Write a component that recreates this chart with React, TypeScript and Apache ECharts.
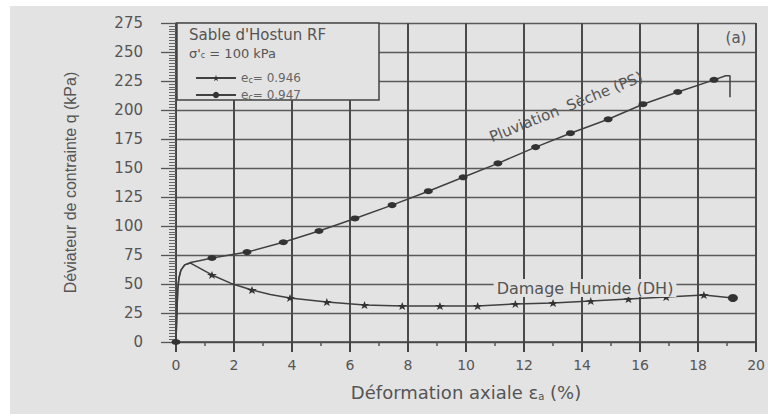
import React, { useEffect, useRef } from "react";
import * as echarts from "echarts";

// Pluviation Sèche (PS) — e_c = 0.947 (circles). mark: 0 = no marker, 1 = marker
const psX = [0, 0.03, 0.06, 0.1, 0.17, 0.3, 0.5, 0.8, 1.24, 2.45, 3.7, 4.93, 6.17, 7.45, 8.7, 9.9, 11.1, 12.4, 13.6, 14.9, 16.1, 17.3, 18.55, 18.95, 19.1, 19.1];
const psY = [0, 25, 45, 55, 62, 66.5, 68.5, 70, 72.4, 77.5, 86, 95.7, 106.5, 118, 130, 142, 154, 168, 180, 192, 205, 215.5, 226, 229.5, 229.5, 211];
const psMark = [1, 0, 0, 0, 0, 0, 0, 0, 1, 1, 1, 1, 1, 1, 1, 1, 1, 1, 1, 1, 1, 1, 1, 0, 0, 0];

// Damage Humide (DH) — e_c = 0.946 (stars). mark: 2 = large dot at the end
const dhX = [0, 0.03, 0.06, 0.1, 0.17, 0.3, 0.5, 1.24, 1.9, 2.62, 3.25, 3.93, 5.2, 6.5, 7.8, 9.1, 10.4, 11.7, 13.0, 14.3, 15.6, 16.9, 18.2, 19.2];
const dhY = [0, 25, 45, 55, 62, 66.5, 68, 57.8, 50.5, 44.8, 41, 38, 34.5, 31.9, 31, 31, 31, 32.8, 33.6, 35.3, 37, 38.8, 40.5, 38];
const dhMark = [0, 0, 0, 0, 0, 0, 0, 1, 0, 1, 0, 1, 1, 1, 1, 1, 1, 1, 1, 1, 1, 1, 1, 2];

const psName = "ec= 0.947";
const dhName = "ec= 0.946";

const xTitle = "Déformation axiale ε{sub|a} (%)";
const yTitle = "Déviateur de contrainte q (kPa)";

const STAR = "path://M50,0L61,35L98,35L68,57L79,91L50,70L21,91L32,57L2,35L39,35Z";
const BG = "#e3e3e3";
const TXT = "#555";
const FONT = "DejaVu Sans";

function build(xs: number[], ys: number[], marks: number[]) {
  return xs.map((x, i) => {
    const m = marks[i];
    if (m === 0) return { value: [x, ys[i]], symbol: "none" };
    if (m === 2) return { value: [x, ys[i]], symbol: "circle", symbolSize: [10, 8] };
    return { value: [x, ys[i]] };
  });
}

export default function App() {
  const ref = useRef<HTMLDivElement>(null);
  useEffect(() => {
    if (!ref.current) return;
    const chart = echarts.init(ref.current, null, { renderer: "svg" });
    const subRich = { sub: { fontSize: 8, verticalAlign: "bottom", fontFamily: FONT, color: TXT } };
    chart.setOption({
      animation: false,
      grid: { left: 176, right: 10, top: 23, bottom: 72 },
      legend: {
        data: [dhName, psName],
        orient: "vertical",
        left: 190,
        top: 67,
        itemWidth: 40,
        itemHeight: 8,
        itemGap: 5,
        z: 6,
        formatter: (n: string) => "e{sub|c}" + n.slice(2),
        textStyle: { fontSize: 12, color: "#666", fontFamily: FONT, rich: subRich },
      },
      xAxis: {
        type: "value",
        min: 0,
        max: 20,
        interval: 2,
        axisLine: { show: true, onZero: false, lineStyle: { color: "#444", width: 1.5 } },
        axisTick: { show: true, length: 10, lineStyle: { color: "#444", width: 2 } },
        minorTick: { show: true, splitNumber: 2, length: 4, lineStyle: { color: "#555", width: 1.5 } },
        splitLine: { show: true, lineStyle: { color: "#4a4a4a", width: 2 } },
        axisLabel: { margin: 16, color: TXT, fontSize: 14, fontFamily: FONT },
        name: xTitle,
        nameLocation: "middle",
        nameGap: 41,
        nameTextStyle: { fontSize: 18, color: TXT, fontFamily: FONT, rich: { sub: { fontSize: 10, verticalAlign: "bottom", color: TXT, fontFamily: FONT } } },
      },
      yAxis: {
        type: "value",
        min: 0,
        max: 275,
        interval: 25,
        axisLine: { show: true, onZero: false, lineStyle: { color: "#444", width: 1.5 } },
        axisTick: { show: true, length: 15, lineStyle: { color: "#555", width: 1.3 } },
        minorTick: { show: true, splitNumber: 10, length: 7, lineStyle: { color: "#666", width: 1 } },
        splitLine: { show: true, lineStyle: { color: "#5a5a5a", width: 1.3 } },
        axisLabel: { margin: 33, color: TXT, fontSize: 15, fontFamily: FONT },
        name: yTitle,
        nameLocation: "middle",
        nameGap: 98,
        nameTextStyle: { fontSize: 16, color: TXT, fontFamily: "Liberation Sans" },
      },
      series: [
        {
          name: dhName,
          type: "line",
          data: build(dhX, dhY, dhMark),
          symbol: STAR,
          symbolSize: [10, 8],
          showSymbol: true,
          lineStyle: { color: "#404040", width: 1.5 },
          itemStyle: { color: "#333" },
          z: 3,
        },
        {
          name: psName,
          type: "line",
          data: build(psX, psY, psMark),
          symbol: "circle",
          symbolSize: [9, 6],
          showSymbol: true,
          lineStyle: { color: "#404040", width: 1.5 },
          itemStyle: { color: "#333" },
          z: 3,
        },
      ],
      graphic: [
        { type: "rect", z: -10, shape: { x: 10, y: 6, width: 758, height: 408 }, style: { fill: BG } },
        { type: "rect", z: 4, shape: { x: 177, y: 23, width: 202, height: 77 }, style: { fill: BG, stroke: "#444", lineWidth: 1.5 } },
        { type: "text", z: 5, x: 189, y: 35, style: { text: "Sable d'Hostun RF", fontSize: 15, fontFamily: FONT, fill: TXT, verticalAlign: "middle" } },
        { type: "text", z: 5, x: 189, y: 53, style: { text: "σ'{sub|c} = 100 kPa", fontSize: 13, fontFamily: FONT, fill: TXT, verticalAlign: "middle", rich: subRich } },
        { type: "text", z: 5, x: 736, y: 38, style: { text: "(a)", fontSize: 15, fontFamily: FONT, fill: TXT, align: "center", verticalAlign: "middle" } },
        { type: "text", z: 5, x: 566, y: 107, rotation: (22 * Math.PI) / 180, style: { text: "Pluviation  Sèche (PS)", fontSize: 15, fontFamily: FONT, fill: TXT, align: "center", verticalAlign: "middle" } },
        { type: "text", z: 5, x: 585, y: 288, style: { text: "Damage Humide (DH)", fontSize: 16, fontFamily: FONT, fill: TXT, align: "center", verticalAlign: "middle", backgroundColor: BG, padding: [1, 3] } },
      ],
    });
    return () => chart.dispose();
  }, []);
  return (
    <div style={{ position: "fixed", left: 0, top: 0, width: 768, height: 414, background: "#fff" }}>
      <div ref={ref} style={{ width: 768, height: 414 }} />
    </div>
  );
}
